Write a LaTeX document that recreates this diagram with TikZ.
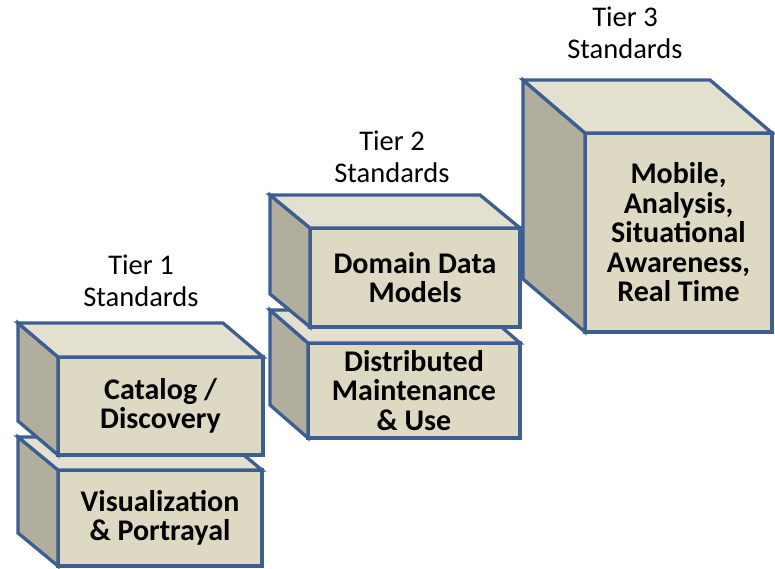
\documentclass[tikz,border=0pt]{standalone}
\usepackage{fontspec}
\setmainfont{Carlito}
\definecolor{frontc}{HTML}{DDD9C3}
\definecolor{topc}{HTML}{E3E0D0}
\definecolor{sidec}{HTML}{B1AE9E}
\definecolor{edgec}{HTML}{3C5E90}
\newcommand\mycube[8]{%
  \node[frontface, minimum width=#4, minimum height=#5, anchor=north west] (#1) at (#2,#3) {#8};
  \filldraw[sideface] (#1.north west) -- ++(-#6,-#7) -- ([shift={(-#6,-#7)}]#1.south west) -- (#1.south west) -- cycle;
  \filldraw[topface] (#1.north west) -- ++(-#6,-#7) -- ([shift={(-#6,-#7)}]#1.north east) -- (#1.north east) -- cycle;
}
\begin{document}
\begin{tikzpicture}[x=1pt,y=-1pt,
  frontface/.style={draw=edgec, fill=frontc, line width=3.3pt, outer sep=0pt, inner sep=0pt,
    align=center, font=\fontsize{30}{29.5}\selectfont\bfseries},
  sideface/.style={draw=edgec, fill=sidec, line width=3.3pt},
  topface/.style={draw=edgec, fill=topc, line width=3.3pt},
  tier/.style={align=center, inner sep=0pt, font=\fontsize{28.5}{32}\selectfont}]
\useasboundingbox (0,0) rectangle (775,568);
% Tier 1
\mycube{vis}{58}{470}{204}{96}{40}{33}{Visualization\\\& Portrayal}
\mycube{cat}{58}{357}{205}{98}{40}{34}{Catalog /\\Discovery}
% Tier 2
\mycube{dist}{308}{343}{212}{95}{38}{33}{Distributed\\Maintenance\\\& Use}
\mycube{dom}{310}{228}{210}{99}{40}{33}{Domain Data\\Models}
% Tier 3
\mycube{mob}{585}{133}{187}{199}{62}{53}{Mobile,\\Analysis,\\Situational\\Awareness,\\Real Time}
% labels
\node[tier] (t1) at (141,281) {Tier 1\\Standards};
\node[tier] (t2) at (392,157) {Tier 2\\Standards};
\node[tier] (t3) at (625,33) {Tier 3\\Standards};
\end{tikzpicture}
\end{document}
